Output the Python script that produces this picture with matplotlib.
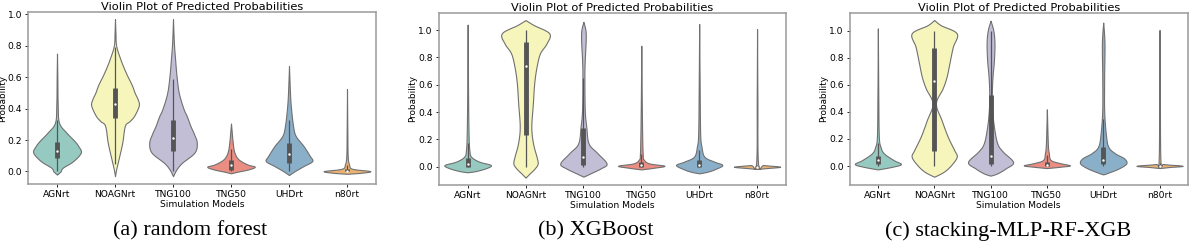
import colorsys
import matplotlib
matplotlib.use("Agg")
import matplotlib.pyplot as plt
import matplotlib.colors as mcolors
import numpy as np

# categories / panels
models = ["AGNrt", "NOAGNrt", "TNG100", "TNG50", "UHDrt", "n80rt"]
captions = ["(a) random forest", "(b) XGBoost", "(c) stacking-MLP-RF-XGB"]
yticks = [0.0, 0.2, 0.4, 0.6, 0.8, 1.0]

# violin outlines: probability -> half width (category units)
# --- random forest
rf_agnrt_y = [-0.02, 0.0, 0.024, 0.066, 0.12, 0.16, 0.194, 0.248, 0.31, 0.42, 0.6, 0.75]
rf_agnrt_w = [0, 0.06, 0.10, 0.28, 0.41, 0.37, 0.30, 0.16, 0.035, 0.012, 0.006, 0]
rf_noagn_y = [-0.03, 0.013, 0.077, 0.183, 0.29, 0.32, 0.354, 0.42, 0.46, 0.50, 0.55, 0.61, 0.66, 0.717, 0.80, 0.88, 0.97]
rf_noagn_w = [0, 0.02, 0.06, 0.125, 0.17, 0.25, 0.33, 0.41, 0.39, 0.34, 0.29, 0.21, 0.15, 0.09, 0.02, 0.008, 0]
rf_tng100_y = [-0.03, 0.013, 0.055, 0.12, 0.183, 0.24, 0.29, 0.35, 0.40, 0.50, 0.61, 0.72, 0.82, 0.97]
rf_tng100_w = [0, 0.06, 0.155, 0.37, 0.41, 0.36, 0.30, 0.24, 0.18, 0.10, 0.06, 0.035, 0.015, 0]
rf_tng50_y = [-0.012, -0.002, 0.013, 0.03, 0.045, 0.077, 0.12, 0.183, 0.305]
rf_tng50_w = [0, 0.11, 0.30, 0.41, 0.28, 0.13, 0.06, 0.03, 0]
rf_uhd_y = [-0.023, 0.002, 0.034, 0.066, 0.098, 0.162, 0.226, 0.29, 0.40, 0.50, 0.67]
rf_uhd_w = [0, 0.10, 0.25, 0.40, 0.36, 0.25, 0.115, 0.07, 0.035, 0.017, 0]
rf_n80_y = [-0.015, -0.009, 0.002, 0.017, 0.045, 0.098, 0.25, 0.524]
rf_n80_w = [0, 0.23, 0.40, 0.09, 0.035, 0.012, 0.006, 0]
# q1, median, q3, whisker low, whisker high
rf_q1 = [0.083, 0.34, 0.13, 0.006, 0.055, 0.0]
rf_med = [0.13, 0.43, 0.215, 0.04, 0.113, 0.005]
rf_q3 = [0.188, 0.53, 0.327, 0.07, 0.183, 0.017]
rf_wlo = [0.0, 0.05, 0.0, 0.0, 0.0, 0.0]
rf_whi = [0.33, 0.79, 0.59, 0.14, 0.33, 0.04]

# --- XGBoost
xgb_agnrt_y = [-0.041, -0.032, -0.012, 0.012, 0.037, 0.073, 0.12, 0.22, 0.5, 1.04]
xgb_agnrt_w = [0, 0.14, 0.31, 0.40, 0.20, 0.06, 0.03, 0.017, 0.008, 0]
xgb_noagn_y = [-0.08, -0.05, -0.012, 0.024, 0.073, 0.17, 0.29, 0.463, 0.61, 0.73, 0.83, 0.90, 0.976, 1.037, 1.073]
xgb_noagn_w = [0, 0.07, 0.16, 0.21, 0.19, 0.13, 0.10, 0.127, 0.15, 0.19, 0.25, 0.36, 0.41, 0.14, 0]
xgb_tng100_y = [-0.073, -0.05, -0.012, 0.024, 0.1, 0.17, 0.29, 0.415, 0.66, 0.78, 0.927, 1.0, 1.06]
xgb_tng100_w = [0, 0.115, 0.30, 0.40, 0.24, 0.09, 0.05, 0.023, 0.017, 0.023, 0.04, 0.035, 0]
xgb_tng50_y = [-0.02, -0.007, 0.007, 0.024, 0.05, 0.1, 0.4, 0.885]
xgb_tng50_w = [0, 0.23, 0.40, 0.14, 0.046, 0.023, 0.01, 0]
xgb_uhd_y = [-0.049, -0.037, -0.02, 0.012, 0.037, 0.073, 0.146, 0.244, 0.6, 1.044]
xgb_uhd_w = [0, 0.14, 0.26, 0.40, 0.26, 0.09, 0.04, 0.017, 0.008, 0]
xgb_n80_y = [-0.017, -0.01, 0.0, 0.012, 0.024, 0.5, 1.007]
xgb_n80_w = [0, 0.17, 0.40, 0.115, 0.017, 0.006, 0]
xgb_q1 = [0.0, 0.23, 0.01, 0.0, 0.0, 0.0]
xgb_med = [0.02, 0.737, 0.073, 0.01, 0.012, 0.0]
xgb_q3 = [0.06, 0.915, 0.28, 0.037, 0.049, 0.004]
xgb_wlo = [0.0, 0.0, 0.0, 0.0, 0.0, 0.0]
xgb_whi = [0.17, 1.0, 0.65, 0.09, 0.12, 0.01]

# --- stacking MLP-RF-XGB
stk_agnrt_y = [-0.025, -0.005, 0.015, 0.044, 0.094, 0.143, 0.217, 0.5, 1.017]
stk_agnrt_w = [0, 0.26, 0.41, 0.28, 0.106, 0.046, 0.017, 0.008, 0]
stk_noagn_y = [-0.079, -0.042, 0.007, 0.069, 0.118, 0.217, 0.34, 0.463, 0.574, 0.66, 0.76, 0.88, 0.98, 1.04, 1.079]
stk_noagn_w = [0, 0.17, 0.30, 0.40, 0.355, 0.24, 0.13, 0.03, 0.15, 0.22, 0.27, 0.33, 0.40, 0.12, 0]
stk_tng100_y = [-0.071, -0.054, -0.017, 0.03, 0.106, 0.167, 0.29, 0.414, 0.537, 0.66, 0.78, 0.906, 1.0, 1.074]
stk_tng100_w = [0, 0.12, 0.27, 0.40, 0.22, 0.12, 0.06, 0.03, 0.023, 0.035, 0.06, 0.07, 0.05, 0]
stk_tng50_y = [-0.015, -0.005, 0.005, 0.02, 0.044, 0.094, 0.167, 0.419]
stk_tng50_w = [0, 0.24, 0.41, 0.25, 0.07, 0.035, 0.017, 0]
stk_uhd_y = [-0.062, -0.049, -0.017, 0.02, 0.057, 0.094, 0.143, 0.24, 0.414, 0.66, 0.906, 1.06]
stk_uhd_w = [0, 0.09, 0.28, 0.41, 0.37, 0.21, 0.09, 0.046, 0.017, 0.017, 0.023, 0]
stk_n80_y = [-0.015, -0.007, 0.002, 0.015, 0.032, 0.5, 1.005]
stk_n80_w = [0, 0.18, 0.41, 0.07, 0.017, 0.006, 0]
stk_q1 = [0.015, 0.11, 0.012, 0.0, 0.015, 0.0]
stk_med = [0.044, 0.63, 0.074, 0.01, 0.044, 0.002]
stk_q3 = [0.076, 0.874, 0.525, 0.032, 0.143, 0.008]
stk_wlo = [0.0, 0.0, 0.0, 0.0, 0.0, 0.0]
stk_whi = [0.17, 1.0, 1.0, 0.08, 0.35, 0.02]

panels = [
    dict(shapes=[(rf_agnrt_y, rf_agnrt_w), (rf_noagn_y, rf_noagn_w), (rf_tng100_y, rf_tng100_w),
                 (rf_tng50_y, rf_tng50_w), (rf_uhd_y, rf_uhd_w), (rf_n80_y, rf_n80_w)],
         box=(rf_q1, rf_med, rf_q3, rf_wlo, rf_whi),
         pos=[28 / 1200, 1 - 184 / 243, 348 / 1200, 172 / 243], ylim=(-0.08, 1.015), cap_x=190),
    dict(shapes=[(xgb_agnrt_y, xgb_agnrt_w), (xgb_noagn_y, xgb_noagn_w), (xgb_tng100_y, xgb_tng100_w),
                 (xgb_tng50_y, xgb_tng50_w), (xgb_uhd_y, xgb_uhd_w), (xgb_n80_y, xgb_n80_w)],
         box=(xgb_q1, xgb_med, xgb_q3, xgb_wlo, xgb_whi),
         pos=[438.7 / 1200, 1 - 185 / 243, 347.3 / 1200, 172.3 / 243], ylim=(-0.134, 1.127), cap_x=596),
    dict(shapes=[(stk_agnrt_y, stk_agnrt_w), (stk_noagn_y, stk_noagn_w), (stk_tng100_y, stk_tng100_w),
                 (stk_tng50_y, stk_tng50_w), (stk_uhd_y, stk_uhd_w), (stk_n80_y, stk_n80_w)],
         box=(stk_q1, stk_med, stk_q3, stk_wlo, stk_whi),
         pos=[849.7 / 1200, 1 - 185 / 243, 338 / 1200, 172.3 / 243], ylim=(-0.14, 1.133), cap_x=1008),
]

set3 = ["#8dd3c7", "#ffffb3", "#bebada", "#fb8072", "#80b1d3", "#fdb462"]


def desat(c, prop=0.75):
    h, l, s = colorsys.rgb_to_hls(*mcolors.to_rgb(c))
    return colorsys.hls_to_rgb(h, l, s * prop)


def smooth_outline(yy, ww, n=12):
    # catmull-rom through the read points, only to round off the polygon corners
    pts = np.column_stack([yy, ww])
    pts = np.vstack([pts[0], pts, pts[-1]])
    out = []
    t = np.linspace(0, 1, n, endpoint=False)[:, None]
    for k in range(1, len(pts) - 2):
        p0, p1, p2, p3 = pts[k - 1], pts[k], pts[k + 1], pts[k + 2]
        seg = 0.5 * ((2 * p1) + (-p0 + p2) * t + (2 * p0 - 5 * p1 + 4 * p2 - p3) * t ** 2
                     + (-p0 + 3 * p1 - 3 * p2 + p3) * t ** 3)
        out.append(seg)
    out.append(pts[-2][None, :])
    out = np.vstack(out)
    return out[:, 0], np.clip(out[:, 1], 0, None)


colors = [desat(c) for c in set3]

fig = plt.figure(figsize=(12, 2.43), dpi=100)

for n_p, p in enumerate(panels):
    ax = fig.add_axes(p["pos"])
    q1, med, q3, wlo, whi = p["box"]
    for i, (yy, ww) in enumerate(p["shapes"]):
        sy, sw = smooth_outline(yy, ww)
        ax.fill_betweenx(sy, i - sw, i + sw, facecolor=colors[i], edgecolor="#707070",
                         linewidth=0.8, zorder=2)
        ax.plot([i, i], [wlo[i], whi[i]], color="#555555", lw=0.9, zorder=3,
                solid_capstyle="butt")
        ax.plot([i, i], [q1[i], q3[i]], color="#555555", lw=3.5, zorder=3,
                solid_capstyle="butt")
        ax.scatter([i], [med[i]], s=3, color="white", zorder=4, linewidths=0)
    ax.set_xlim(-0.5, len(models) - 0.5)
    ax.set_ylim(*p["ylim"])
    ax.set_xticks(range(len(models)))
    ax.set_xticklabels(models)
    ax.set_yticks(yticks)
    ax.set_yticklabels([f"{v:.1f}" for v in yticks])
    ax.tick_params(labelsize=6.6, length=2.5, width=0.6, pad=1.8)
    ax.set_xlabel("Simulation Models", fontsize=6.6, labelpad=1)
    ax.set_ylabel("Probability", fontsize=6.4, labelpad=0.5)
    ax.set_title("Violin Plot of Predicted Probabilities", fontsize=8.2, pad=1.5)
    for s in ax.spines.values():
        s.set_color("#9a9a9a")
        s.set_linewidth(1.1)
    fig.text(p["cap_x"] / 1200, 1 - 231 / 243, captions[n_p],
             ha="center", va="center", fontsize=16, family="Liberation Serif")

fig.savefig("out.png", dpi=100, facecolor="white")
